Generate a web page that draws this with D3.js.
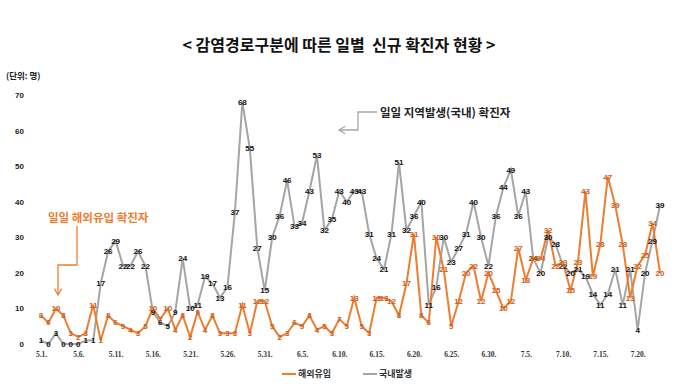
<!DOCTYPE html>
<html>
<head>
<meta charset="utf-8">
<script src="https://cdn.jsdelivr.net/npm/d3@7"></script>
<style>
  body { margin: 0; background: #fff; }
  text { font-family: "Noto Sans CJK KR", "Noto Sans", sans-serif; }
</style>
</head>
<body>
<script>
// daily counts 5.1 ~ 7.23
var startDay = new Date(2020, 4, 1)
var endDay = new Date(2020, 6, 24)
var days = d3.timeDay.range(startDay, endDay)
var dayLabels = days.map(function(d) { return (d.getMonth() + 1) + "." + d.getDate() + "." })

// 해외유입 (imported)
var imported = [8, 6, 10, 8, 3, 2, 3, 11, 1, 8,
    6, 5, 4, 3, 5, 10, 7, 10, 4, 8,
    2, 9, 4, 8, 3, 3, 3, 11, 3, 12, 12,
    5, 2, 3, 6, 5, 8, 4, 5, 3, 7,
    5, 13, 5, 3, 13, 13, 12, 8, 17, 31,
    8, 6, 30, 21, 5, 12, 20, 22, 12, 20,
    15, 10, 12, 27, 18, 24, 24, 32, 22, 23,
    15, 23, 43, 19, 28, 47, 39, 28, 13, 22,
    25, 34, 20]

// 국내발생 (local)
var local = [1, 0, 3, 0, 0, 0, 1, 1, 17, 26,
    29, 22, 22, 26, 22, 9, 6, 5, 9, 24,
    10, 11, 19, 17, 13, 16, 37, 68, 55, 27, 15,
    30, 36, 46, 33, 34, 43, 53, 32, 35, 43,
    40, 43, 43, 31, 24, 21, 31, 51, 32, 36,
    40, 11, 16, 30, 23, 27, 31, 40, 30, 22,
    36, 44, 49, 36, 43, 24, 20, 30, 28, 22,
    20, 21, 19, 14, 11, 14, 21, 11, 21, 4,
    20, 29, 39]

var yTicks = [0, 10, 20, 30, 40, 50, 60, 70]
var seriesNames = ["해외유입", "국내발생"]

var width = 680
var height = 387
var orange = "#ED7D31"
var orangeText = "#C8611E"
var grey = "#A5A5A5"

var svg = d3.select("body").append("svg")
    .attr("width", width)
    .attr("height", height)

var x = d3.scaleLinear().domain([0, days.length - 1]).range([41, 660])
var y = d3.scaleLinear().domain([0, 70]).range([344, 95])

// title (double space kept as in the original)
svg.append("text")
    .attr("x", 339)
    .attr("y", 51)
    .attr("text-anchor", "middle")
    .style("white-space", "pre")
    .style("font-size", "16px")
    .style("font-weight", "bold")
    .style("fill", "#111")
    .text("< 감염경로구분에 따른 일별  신규 확진자 현황 >")

svg.append("text")
    .attr("x", 6)
    .attr("y", 79)
    .style("font-size", "8.5px")
    .style("font-weight", "bold")
    .style("fill", "#222")
    .text("(단위: 명)")

// y axis
var yAxis = svg.append("g")
    .attr("transform", "translate(28,0)")
    .call(d3.axisLeft(y).tickValues(yTicks).tickSize(0).tickPadding(4))
yAxis.select(".domain").remove()
yAxis.selectAll("text")
    .style("font-size", "8px")
    .style("font-weight", "bold")
    .style("fill", "#222")
    .style("font-family", "'Liberation Sans', sans-serif")

// x axis
var xTickIdx = d3.range(0, days.length, 5)
var xAxis = svg.append("g")
    .attr("transform", "translate(0,349)")
    .call(d3.axisBottom(x).tickValues(xTickIdx).tickSize(0).tickPadding(3)
        .tickFormat(function(i) { return dayLabels[i] }))
xAxis.select(".domain").remove()
xAxis.selectAll("text")
    .style("font-size", "7.5px")
    .style("font-weight", "bold")
    .style("fill", "#333")
    .style("font-family", "'Liberation Serif', serif")

var line = d3.line()
    .x(function(d, i) { return x(i) })
    .y(function(d) { return y(d) })

svg.append("path")
    .datum(local)
    .attr("d", line)
    .attr("fill", "none")
    .attr("stroke", grey)
    .attr("stroke-width", 2)

svg.append("path")
    .datum(imported)
    .attr("d", line)
    .attr("fill", "none")
    .attr("stroke", orange)
    .attr("stroke-width", 2)

// data labels
svg.append("g").selectAll("text")
    .data(local)
    .join("text")
    .attr("x", function(d, i) { return x(i) })
    .attr("y", function(d) { return y(d) })
    .attr("dy", "0.35em")
    .attr("text-anchor", "middle")
    .style("font-size", "8px")
    .style("font-weight", "bold")
    .style("fill", "#111")
    .style("font-family", "'Liberation Sans', sans-serif")
    .text(function(d) { return d })

svg.append("g").selectAll("text")
    .data(imported)
    .join("text")
    .attr("x", function(d, i) { return x(i) })
    .attr("y", function(d) { return y(d) })
    .attr("dy", "0.35em")
    .attr("text-anchor", "middle")
    .style("font-size", "8px")
    .style("font-weight", "bold")
    .style("fill", orangeText)
    .style("font-family", "'Liberation Sans', sans-serif")
    .text(function(d) { return d })

// annotations
var defs = svg.append("defs")
defs.append("marker")
    .attr("id", "arrGrey")
    .attr("viewBox", "0 0 10 10")
    .attr("refX", 8).attr("refY", 5)
    .attr("markerWidth", 7).attr("markerHeight", 7)
    .attr("orient", "auto")
    .append("path")
    .attr("d", "M1,1 L8,5 L1,9")
    .attr("fill", "none")
    .attr("stroke", grey)
    .attr("stroke-width", 1.3)
defs.append("marker")
    .attr("id", "arrOrange")
    .attr("viewBox", "0 0 10 10")
    .attr("refX", 8).attr("refY", 5)
    .attr("markerWidth", 7).attr("markerHeight", 7)
    .attr("orient", "auto")
    .append("path")
    .attr("d", "M1,1 L8,5 L1,9")
    .attr("fill", "none")
    .attr("stroke", orange)
    .attr("stroke-width", 1.3)

svg.append("path")
    .attr("d", "M377,112 H358 V130 H339")
    .attr("fill", "none")
    .attr("stroke", grey)
    .attr("stroke-width", 1.3)
    .attr("marker-end", "url(#arrGrey)")

svg.append("text")
    .attr("x", 380)
    .attr("y", 117)
    .style("font-size", "11.5px")
    .style("font-weight", "bold")
    .style("fill", "#222")
    .text("일일 지역발생(국내) 확진자")

svg.append("path")
    .attr("d", "M77,226 V265 H58 V295")
    .attr("fill", "none")
    .attr("stroke", orange)
    .attr("stroke-width", 1.3)
    .attr("marker-end", "url(#arrOrange)")

svg.append("text")
    .attr("x", 48)
    .attr("y", 222)
    .style("font-size", "11.5px")
    .style("font-weight", "bold")
    .style("fill", orange)
    .text("일일 해외유입 확진자")

// legend
var legend = svg.append("g").attr("transform", "translate(0,374)")
var legendItems = [
    { name: seriesNames[0], color: orange, x: 282 },
    { name: seriesNames[1], color: grey, x: 363 }
]
legendItems.forEach(function(item) {
    legend.append("line")
        .attr("x1", item.x).attr("x2", item.x + 14)
        .attr("y1", 0).attr("y2", 0)
        .attr("stroke", item.color)
        .attr("stroke-width", 2)
    legend.append("text")
        .attr("x", item.x + 16)
        .attr("y", 0)
        .attr("dy", "0.35em")
        .style("font-size", "9px")
        .style("font-weight", "bold")
        .style("fill", "#333")
        .text(item.name)
})
</script>
</body>
</html>
